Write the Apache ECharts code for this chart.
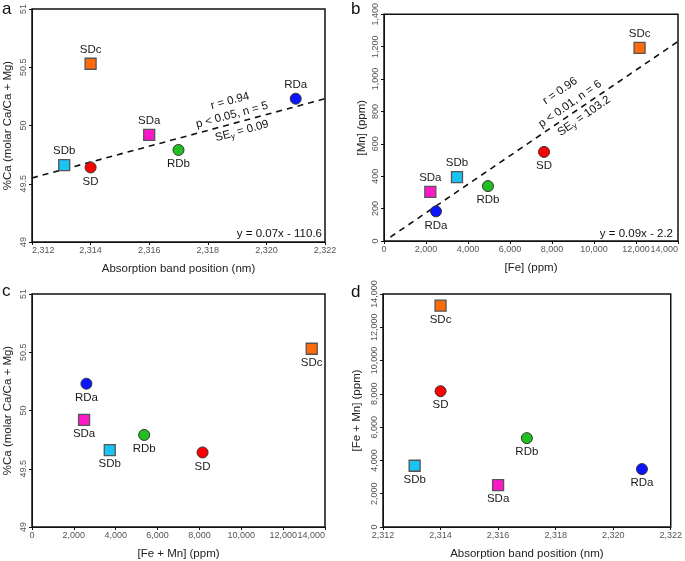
<!DOCTYPE html>
<html><head><meta charset="utf-8">
<script src="https://cdn.jsdelivr.net/npm/echarts@6/dist/echarts.min.js"></script>
<style>html,body{margin:0;padding:0;background:#fff}#c{width:685px;height:561px}</style>
</head><body><div id="c"></div>
<script>
// ---- data ----
const samples   = ['SD', 'RDa', 'RDb', 'SDa', 'SDb', 'SDc'];
const bandPos   = [2314, 2321, 2317, 2316, 2313.1, 2314];        // nm
const caPct     = [49.64, 50.23, 49.79, 49.92, 49.66, 50.53];    // %Ca
const fePpm     = [7620, 2476, 4952, 2206, 3476, 12170];
const mnPpm     = [550, 183, 339, 303, 394, 1193];
const feMnC     = [8150, 2600, 5359, 2488, 3716, 13365];         // panel c
const feMnD     = [8160, 3480, 5340, 2520, 3680, 13300];         // panel d
const trendA_x  = [2312, 2322];
const trendA_y  = [49.55, 50.23];
const trendB_x  = [300, 14000];
const trendB_y  = [24, 1232];

// ---- styles ----
const colorOf = {SD:'#ff0000', RDa:'#0a14ff', RDb:'#20c020', SDa:'#ff18c8', SDb:'#18c4f4', SDc:'#ff6a0a'};
const shapeOf = {SD:'circle', RDa:'circle', RDb:'circle', SDa:'rect', SDb:'rect', SDc:'rect'};
const labelPos = [
  {SD:'bottom', RDa:'top', RDb:'bottom', SDa:'top', SDb:'top', SDc:'top'},
  {SD:'bottom', RDa:'bottom', RDb:'bottom', SDa:'top', SDb:'top', SDc:'top'},
  {SD:'bottom', RDa:'bottom', RDb:'bottom', SDa:'bottom', SDb:'bottom', SDc:'bottom'},
  {SD:'bottom', RDa:'bottom', RDb:'bottom', SDa:'bottom', SDb:'bottom', SDc:'bottom'}
];
const FONT = 'Liberation Sans, Arial, sans-serif';

function pts(xs, ys, panel){
  return samples.map((s,i)=>({
    name:s, value:[xs[i], ys[i]],
    symbol: shapeOf[s],
    symbolSize: 11,
    itemStyle:{color:colorOf[s], borderColor: shapeOf[s]==='rect' ? '#555' : '#333',
      borderWidth: shapeOf[s]==='rect' ? 1.3 : 1, opacity:1},
    label:{show:true, position:labelPos[panel][s], formatter:s, distance:2,
      color:'#1a1a1a', fontSize:11.5, fontFamily:FONT}
  }));
}

const grids = [
  {left:32, top:9, width:293, height:233},
  {left:384, top:9, width:294, height:232},
  {left:32, top:294, width:293, height:233},
  {left:383, top:294, width:295, height:233}
];

const tickLabel = (fmt, extra)=>Object.assign({color:'#555', fontSize:9, fontFamily:FONT, margin:4,
  formatter:fmt, showMinLabel:true, showMaxLabel:true, hideOverlap:false}, extra||{});

function xAx(idx, min, max, interval, name, fmt, extra){
  return {
    gridIndex:idx, type:'value', min, max, interval,
    name, nameLocation:'middle', nameGap:21,
    nameTextStyle:{color:'#222', fontSize:11.5, fontFamily:FONT},
    axisLine:{show:true, onZero:false, lineStyle:{color:'#111', width:1}},
    axisTick:{show:true, inside:false, length:3, lineStyle:{color:'#111'}},
    axisLabel:tickLabel(fmt, extra),
    splitLine:{show:false}
  };
}
function yAx(idx, min, max, interval, name, fmt, gap){
  return {
    gridIndex:idx, type:'value', min, max, interval,
    name, nameLocation:'middle', nameGap:gap,
    nameTextStyle:{color:'#222', fontSize:11.5, fontFamily:FONT},
    axisLine:{show:true, onZero:false, lineStyle:{color:'#111', width:1}},
    axisTick:{show:true, inside:false, length:3, lineStyle:{color:'#111'}},
    axisLabel:tickLabel(fmt, {rotate:90}),
    splitLine:{show:false}
  };
}
const thou = v => v.toLocaleString('en-US');
const plain = v => String(v);

const subRich = {s:{fontSize:8, verticalAlign:'bottom', padding:[6,0,0,0], fontFamily:FONT, fill:'#111'}};

function rotText(x, y, txt, deg, rich){
  return {type:'text', x, y, rotation: deg*Math.PI/180, z:10,
    style:{text:txt, fontSize:11.5, fontFamily:FONT, fill:'#111', align:'center', verticalAlign:'middle', rich:rich}};
}

const option = {
  animation:false,
  backgroundColor:'#fff',
  grid: grids.map(g=>Object.assign({show:true, borderColor:'#111', borderWidth:1.5, backgroundColor:'transparent'}, g)),
  xAxis:[
    xAx(0, 2312, 2322, 2, 'Absorption band position (nm)', thou, {alignMinLabel:'left'}),
    xAx(1, 0, 14000, 2000, '[Fe] (ppm)', thou, {alignMaxLabel:'right'}),
    xAx(2, 0, 14000, 2000, '[Fe + Mn] (ppm)', thou, {alignMaxLabel:'right'}),
    xAx(3, 2312, 2322, 2, 'Absorption band position (nm)', thou)
  ],
  yAxis:[
    yAx(0, 49, 51, 0.5, '%Ca (molar Ca/Ca + Mg)', plain, 18),
    yAx(1, 0, 1400, 200, '[Mn] (ppm)', thou, 16),
    yAx(2, 49, 51, 0.5, '%Ca (molar Ca/Ca + Mg)', plain, 18),
    yAx(3, 0, 14000, 2000, '[Fe + Mn] (ppm)', thou, 20)
  ],
  series:[
    {type:'line', xAxisIndex:0, yAxisIndex:0, data:trendA_x.map((x,i)=>[x,trendA_y[i]]), symbol:'none',
      lineStyle:{color:'#111', width:1.6, type:[6,5]}, silent:true, z:1},
    {type:'line', xAxisIndex:1, yAxisIndex:1, data:trendB_x.map((x,i)=>[x,trendB_y[i]]), symbol:'none',
      lineStyle:{color:'#111', width:1.6, type:[6,5]}, silent:true, z:1},
    {type:'scatter', xAxisIndex:0, yAxisIndex:0, data:pts(bandPos, caPct, 0), z:3},
    {type:'scatter', xAxisIndex:1, yAxisIndex:1, data:pts(fePpm, mnPpm, 1), z:3},
    {type:'scatter', xAxisIndex:2, yAxisIndex:2, data:pts(feMnC, caPct, 2), z:3},
    {type:'scatter', xAxisIndex:3, yAxisIndex:3, data:pts(bandPos, feMnD, 3), z:3}
  ],
  graphic:[
    {type:'text', left:2, top:1, style:{text:'a', fontSize:17, fontFamily:FONT, fill:'#111'}},
    {type:'text', left:351, top:1, style:{text:'b', fontSize:17, fontFamily:FONT, fill:'#111'}},
    {type:'text', left:2, top:283, style:{text:'c', fontSize:17, fontFamily:FONT, fill:'#111'}},
    {type:'text', left:351, top:284, style:{text:'d', fontSize:17, fontFamily:FONT, fill:'#111'}},
    {type:'text', x:322, y:234, style:{text:'y = 0.07x - 110.6', fontSize:11.5, fontFamily:FONT, fill:'#111', align:'right', verticalAlign:'middle'}},
    {type:'text', x:673, y:234, style:{text:'y = 0.09x - 2.2', fontSize:11.5, fontFamily:FONT, fill:'#111', align:'right', verticalAlign:'middle'}},
    rotText(230, 101, 'r = 0.94', 15),
    rotText(232, 115, 'p < 0.05, n = 5', 15),
    rotText(242, 131, 'SE{s|y} = 0.09', 15, subRich),
    rotText(560, 91, 'r = 0.96', 35),
    rotText(570, 104, 'p < 0.01, n = 6', 35),
    rotText(584, 116, 'SE{s|y} = 103.2', 35, subRich)
  ]
};
echarts.init(document.getElementById('c'), null, {renderer:'canvas'}).setOption(option);
</script></body></html>
